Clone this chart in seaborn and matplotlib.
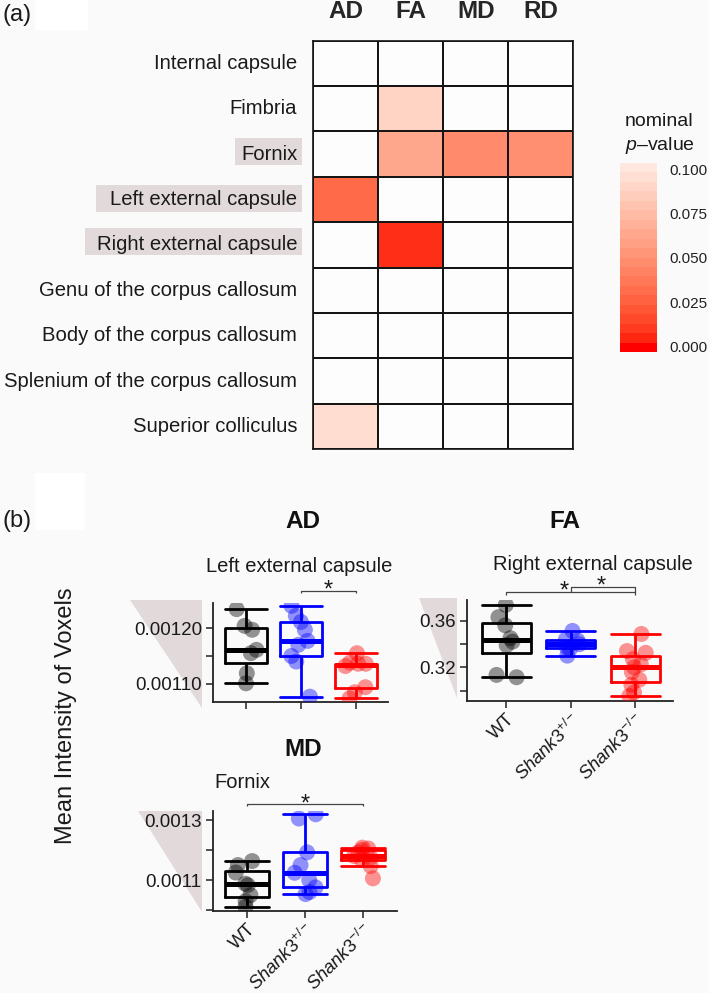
import numpy as np
import pandas as pd
import matplotlib
matplotlib.use("Agg")
import matplotlib.pyplot as plt
import seaborn as sns
from matplotlib.colors import ListedColormap, Normalize
from matplotlib.cm import ScalarMappable
from matplotlib.transforms import Affine2D, blended_transform_factory
from matplotlib.patches import Polygon, Rectangle

# ---------------- data ----------------
regions = ["Internal capsule", "Fimbria", "Fornix", "Left external capsule",
           "Right external capsule", "Genu of the corpus callosum",
           "Body of the corpus callosum", "Splenium of the corpus callosum",
           "Superior colliculus"]
metrics = ["AD", "FA", "MD", "RD"]
nan = np.nan
p_ad = [nan, nan, nan, 0.030, nan, nan, nan, nan, 0.094]
p_fa = [nan, 0.089, 0.063, nan, 0.007, nan, nan, nan, nan]
p_md = [nan, nan, 0.047, nan, nan, nan, nan, nan, nan]
p_rd = [nan, nan, 0.049, nan, nan, nan, nan, nan, nan]

groups = ["WT", "Shank3+/-", "Shank3-/-"]
group_labels = [r"WT", r"$\mathit{Shank3}^{+/-}$", r"$\mathit{Shank3}^{-/-}$"]
group_colors = ["#000000", "#0000ff", "#ff0000"]

ad_wt = [0.001234, 0.001197, 0.001204, 0.001155, 0.001161, 0.001119, 0.001101]
ad_het = [0.001240, 0.001222, 0.001211, 0.001197, 0.001177, 0.001170, 0.001150, 0.001140, 0.001077]
ad_ko = [0.001074, 0.001085, 0.001094, 0.001132, 0.001136, 0.001136, 0.001138, 0.001155]

fa_wt = [0.3115, 0.3135, 0.339, 0.342, 0.345, 0.356, 0.363, 0.3735]
fa_het = [0.330, 0.336, 0.3366, 0.3398, 0.343, 0.3438, 0.3512]
fa_ko = [0.2955, 0.2985, 0.305, 0.3094, 0.316, 0.320, 0.3225, 0.327, 0.3324, 0.334, 0.3486]

md_wt = [0.001011, 0.00103, 0.00105, 0.001083, 0.001088, 0.001125, 0.00115, 0.0011633]
md_het = [0.0010533, 0.00106, 0.0010757, 0.0011, 0.0011243, 0.00115, 0.0011923, 0.001305, 0.001319]
md_ko = [0.0011057, 0.0011467, 0.0011667, 0.001175, 0.00118, 0.001192, 0.0012, 0.001205, 0.001208]

# ---------------- style ----------------
sns.set_style("white")
plt.rcParams["font.family"] = ["Liberation Sans", "DejaVu Sans"]
plt.rcParams["mathtext.fontset"] = "custom"
plt.rcParams["mathtext.rm"] = "Liberation Sans"
plt.rcParams["mathtext.it"] = "Liberation Sans:italic"
plt.rcParams["mathtext.bf"] = "Liberation Sans:bold"

BG = "#fafafa"
HL = "#e2dada"
W, H = 709, 993
fig = plt.figure(figsize=(W / 100, H / 100), dpi=100, facecolor=BG)
PX = Affine2D().scale(1 / W, -1 / H).translate(0, 1) + fig.transFigure


def add_ax(l, t, r, b):
    a = fig.add_axes([l / W, 1 - b / H, (r - l) / W, (b - t) / H])
    a.set_facecolor("none")
    return a


def ftext(x, y, s, **kw):
    return fig.text(x, y, s, transform=PX, **kw)


def rect(l, t, r, b, color):
    fig.patches.append(Rectangle((l, t), r - l, b - t, transform=PX, facecolor=color,
                                 edgecolor="none", zorder=-2))


# Lab interpolation (like ggplot gradient red -> white)
def _lin(c):
    return np.where(c <= 0.04045, c / 12.92, ((c + 0.055) / 1.055) ** 2.4)


def _gam(c):
    c = np.clip(c, 0, 1)
    return np.where(c <= 0.0031308, 12.92 * c, 1.055 * c ** (1 / 2.4) - 0.055)


_M = np.array([[0.4124, 0.3576, 0.1805], [0.2126, 0.7152, 0.0722], [0.0193, 0.1192, 0.9505]])
_WH = np.array([0.95047, 1.0, 1.08883])


def _f(t):
    d = 6 / 29
    return np.where(t > d ** 3, np.cbrt(t), t / (3 * d * d) + 4 / 29)


def _finv(t):
    d = 6 / 29
    return np.where(t > d, t ** 3, 3 * d * d * (t - 4 / 29))


def to_lab(rgb):
    xyz = _M @ _lin(np.asarray(rgb, float)) / _WH
    fx, fy, fz = _f(xyz)
    return np.array([116 * fy - 16, 500 * (fx - fy), 200 * (fy - fz)])


def from_lab(lab):
    L, a, b = lab
    fy = (L + 16) / 116
    fx = fy + a / 500
    fz = fy - b / 200
    xyz = _finv(np.array([fx, fy, fz])) * _WH
    return _gam(np.linalg.inv(_M) @ xyz)


lab_lo, lab_hi = to_lab([1, 0, 0]), to_lab([1, 1, 1])


def lab_mix(fr):
    return [from_lab(lab_lo + (lab_hi - lab_lo) * f) for f in fr]


vmin, vmax, vtop = -0.003, 0.1034, 0.115
cmap = ListedColormap(lab_mix(np.clip(np.linspace(vmin, vmax, 256) / vtop, 0, 1)))
cmap.set_over("#fdfdfd")
cmap20 = ListedColormap(lab_mix(np.clip(
    (np.linspace(vmin, vmax, 21)[:-1] + (vmax - vmin) / 40) / vtop, 0, 1)))

# ---------------- panel (a) ----------------
# highlight boxes behind selected region labels
rect(235, 138.3, 301.7, 165, HL)
rect(96, 185, 301.7, 211.7, HL)
rect(85, 228.3, 301.7, 255, HL)

axh = add_ax(313.3, 40.7, 573.3, 449.3)
df = pd.DataFrame({"AD": p_ad, "FA": p_fa, "MD": p_md, "RD": p_rd}, index=regions)
sns.heatmap(df.fillna(1.0), ax=axh, cmap=cmap, vmin=vmin, vmax=vmax, cbar=False,
            linewidths=1.2, linecolor="#151515")
for s in axh.spines.values():
    s.set_visible(True)
    s.set_linewidth(1.2)
    s.set_color("#151515")
axh.xaxis.tick_top()
axh.set_xticklabels(metrics, fontsize=17.5, fontweight="bold", rotation=0)
axh.set_yticklabels(regions, fontsize=14.6, rotation=0)
axh.tick_params(axis="x", length=0, pad=13)
axh.tick_params(axis="y", length=0, pad=11.5)
axh.set_xlabel("")
axh.set_ylabel("")
for t in axh.get_yticklabels():
    t.set_color("#1a1a1a")

cax = add_ax(620, 163, 657, 352)
cb = fig.colorbar(ScalarMappable(norm=Normalize(vmin, vmax), cmap=cmap20), cax=cax)
cb.outline.set_visible(False)
cb.set_ticks([0, 0.025, 0.05, 0.075, 0.1])
cb.set_ticklabels(["0.000", "0.025", "0.050", "0.075", "0.100"])
cax.yaxis.set_ticks_position("both")
cax.tick_params(axis="y", which="both", direction="in", length=6, width=1,
                color="white", labelcolor="#222222", labelsize=11, pad=9,
                left=True, right=True, labelleft=False, labelright=True)
ftext(625, 121, "nominal", fontsize=14, va="center", ha="left", color="#1a1a1a")
ftext(625, 145, r"$\mathit{p}$–value", fontsize=14, va="center", ha="left", color="#1a1a1a")

# panel letters with white patches
rect(35, 0, 88, 30, "white")
rect(35, 473, 85, 530, "white")
ftext(2, 15, "(a)", fontsize=17, va="center", ha="left", color="#1a1a1a")
ftext(2, 521, "(b)", fontsize=17, va="center", ha="left", color="#1a1a1a")

# ---------------- panel (b) ----------------
np.random.seed(7)
pal = dict(zip(groups, group_colors))


def long_df(a, b, c):
    return pd.DataFrame({"group": [groups[0]] * len(a) + [groups[1]] * len(b) + [groups[2]] * len(c),
                         "value": list(a) + list(b) + list(c)})


def box_panel(ax, data, ylim, yticks, yticklabels, show_xlabels):
    sns.boxplot(data=data, x="group", y="value", hue="group", palette=pal, order=groups,
                hue_order=groups, fill=False, width=0.76, linewidth=2.0, showfliers=False,
                legend=False, ax=ax, capwidths=0.76,
                medianprops=dict(linewidth=3.6), whiskerprops=dict(linewidth=2.0),
                capprops=dict(linewidth=2.0))
    sns.stripplot(data=data, x="group", y="value", hue="group", palette=pal, order=groups,
                  hue_order=groups, jitter=0.2, size=11.5, alpha=0.42, linewidth=0,
                  legend=False, ax=ax, zorder=5)
    ax.set_xlim(-0.6, 2.59)
    ax.set_ylim(*ylim)
    ax.set_yticks(yticks)
    ax.set_yticklabels(yticklabels)
    ax.set_xticks([0, 1, 2])
    if show_xlabels:
        ax.set_xticklabels(group_labels, rotation=45, ha="right", rotation_mode="anchor")
        for t, c in zip(ax.get_xticklabels(), group_colors):
            t.set_color(c)
    else:
        ax.set_xticklabels(["", "", ""])
    ax.set_xlabel("")
    ax.set_ylabel("")
    ax.tick_params(axis="both", length=5, width=1.1, color="#222222", labelsize=13.5,
                   labelcolor="#1a1a1a", pad=3, bottom=True, left=True)
    ax.tick_params(axis="x", labelsize=13.2, pad=2)
    for s in ["top", "right"]:
        ax.spines[s].set_visible(False)
    for s in ["left", "bottom"]:
        ax.spines[s].set_linewidth(1.3)
        ax.spines[s].set_color("#222222")


def bracket(ax, x0, x1, y, yend, star_x, star_y):
    tr = blended_transform_factory(ax.transData, PX)
    ax.plot([x0, x0, x1, x1], [yend, y, y, yend], transform=tr, color="#444444",
            lw=0.9, clip_on=False, solid_capstyle="butt")
    ax.text(star_x, star_y + 13, "*", transform=tr, fontsize=17, ha="center",
            va="baseline", color="#1a1a1a")


def triangle(l, t, r, b):
    fig.patches.append(Polygon([(l, t), (r, t), (r, b)], closed=True, transform=PX,
                               facecolor=HL, edgecolor="none", zorder=-2))


triangle(130, 600, 202, 708)
triangle(419, 598, 457, 698)
triangle(138, 811, 202, 912)

ax_ad = add_ax(213, 603, 388.3, 701.7)
box_panel(ax_ad, long_df(ad_wt, ad_het, ad_ko), (0.001068, 0.001245),
          [0.00110, 0.00115, 0.00120], ["0.00110", "", "0.00120"], False)
bracket(ax_ad, 1, 2, 590.7, 593, 1.5, 584)

ax_fa = add_ax(467.3, 600, 673.3, 700.7)
box_panel(ax_fa, long_df(fa_wt, fa_het, fa_ko), (0.2914, 0.3777),
          [0.30, 0.32, 0.34, 0.36], ["", "0.32", "", "0.36"], True)
bracket(ax_fa, 0, 2, 592.3, 595, 0.9, 585)
bracket(ax_fa, 1, 2, 587.3, 592.3, 1.48, 580)

ax_md = add_ax(212.7, 811, 396.7, 911)
box_panel(ax_md, long_df(md_wt, md_het, md_ko), (0.000997, 0.00133),
          [0.0010, 0.0011, 0.0012, 0.0013], ["", "0.0011", "", "0.0013"], True)
bracket(ax_md, 0, 2, 804, 806, 1.0, 797.3)

# titles
ftext(303, 522, "AD", fontsize=17.5, fontweight="bold", ha="center", va="center", color="#111111")
ftext(565, 522, "FA", fontsize=17.5, fontweight="bold", ha="center", va="center", color="#111111")
ftext(303, 750, "MD", fontsize=17.5, fontweight="bold", ha="center", va="center", color="#111111")
ftext(299.5, 566, "Left external capsule", fontsize=14.5, ha="center", va="center", color="#1a1a1a")
ftext(593, 564, "Right external capsule", fontsize=14.5, ha="center", va="center", color="#1a1a1a")
ftext(242.5, 782, "Fornix", fontsize=14.5, ha="center", va="center", color="#1a1a1a")
ftext(66, 716, "Mean Intensity of Voxels", fontsize=17, rotation=90, ha="center",
      va="center", color="#1a1a1a")

fig.savefig("out.png", dpi=100, facecolor=BG)
